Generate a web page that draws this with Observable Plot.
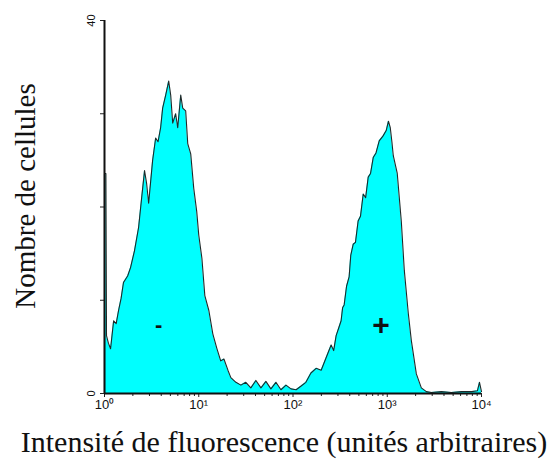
<!DOCTYPE html>
<html><head><meta charset="utf-8">
<script src="https://cdn.jsdelivr.net/npm/d3@7"></script>
<script src="https://cdn.jsdelivr.net/npm/@observablehq/plot@0.6"></script>
<style>body{margin:0;background:#fff}</style>
</head><body><div id="chart"></div>
<script>
// Fluorescence intensity (arbitrary units, log scale) and cell counts
const intensity = [1.0,1.0,1.035,1.05,1.1,1.16,1.25,1.33,1.41,1.5,1.59,1.76,1.89,2.08,2.3,2.48,2.66,2.8,2.94,3.24,3.49,3.7,3.94,4.14,4.46,4.8,5.04,5.29,5.69,5.98,6.44,6.76,7.27,7.64,8.22,8.85,9.52,10.0,10.8,11.6,12.8,14.1,15.5,17.1,18.5,20.4,21.9,24.8,28.0,31.6,35.7,40.4,45.7,51.6,58.3,65.9,74.5,84.3,95.2,108,122,137,155,176,199,224,254,270,287,305,324,336,349,370,394,410,435,460,491,520,556,590,628,665,710,760,822,900,975,1030,1077,1120,1159,1277,1409,1517,1672,1800,2036,2300,2600,2940,3750,4800,6130,7830,9060,9520,10000];
const counts = [0,23.6,23.6,6.2,5.4,4.8,7.8,7.5,8.9,10.2,11.9,12.6,13.5,15.3,17.8,21.0,23.9,22.5,20.4,25.0,27.4,27.0,28.5,30.6,32.0,33.5,32.0,29.0,30.0,28.5,32.0,30.6,30.3,26.8,25.7,22.0,19.5,17.0,14.5,10.5,8.9,6.4,4.9,3.5,3.7,2.5,1.7,1.2,0.9,1.2,0.6,1.4,0.6,1.3,0.5,1.2,0.4,0.9,0.5,0.4,0.8,1.2,2.2,2.7,2.5,3.8,5.2,4.6,6.2,7.0,7.8,9.2,9.5,11.5,12.5,14.8,16.0,16.2,18.5,19.0,21.4,21.0,23.2,23.6,25.3,25.8,27.1,27.6,28.2,29.2,28.5,27.0,25.5,23.6,18.5,13.2,8.6,5.7,2.1,0.6,0.2,0.1,0.2,0.1,0.2,0.2,0.3,1.2,0.2];

const xTicks = [1,10,100,1000,10000];
const xTickLabels = ["10⁰","10¹","10²","10³","10⁴"];
const xMinorTicks = [2,3,4,5,6,7,8,9,20,30,40,50,60,70,80,90,200,300,400,500,600,700,800,900,2000,3000,4000,5000,6000,7000,8000,9000];
const yTicks = [0,10,20,30,40];
const yTickLabels = ["0","","","","40"];
const markerLabels = ["-","+"];
const markerX = [3.75, 860];
const markerY = [7.3, 7.3];
const xTitle = "Intensité de fluorescence (unités arbitraires)";
const yTitle = "Nombre de cellules";

const data = intensity.map((v,i)=>({x:v, y:counts[i]}));
const markers = markerLabels.map((t,i)=>({t, x:markerX[i], y:markerY[i]}));

const plot = Plot.plot({
  width: 558, height: 466,
  marginLeft: 104, marginRight: 77, marginTop: 20, marginBottom: 73,
  style: {fontFamily: "Liberation Sans, Arial, sans-serif", background: "#fff"},
  x: {type: "log", domain: [1, 10000], label: null},
  y: {domain: [0, 40], label: null},
  marks: [
    Plot.areaY(data, {x:"x", y:"y", fill:"#00ffff", curve:"linear"}),
    Plot.lineY(data, {x:"x", y:"y", stroke:"#1e2a2a", strokeWidth:1.1, curve:"linear"}),
    Plot.axisX({ticks: xMinorTicks, tickSize: 3, tickFormat: () => "", stroke:"#222", label: null}),
    Plot.axisX({ticks: xTicks, tickSize: 4, tickPadding: 2, fontSize: 13, tickFormat: d => xTickLabels[xTicks.indexOf(d)], fill:"#111", stroke:"#222", label: null}),
    Plot.axisY({ticks: yTicks, tickSize: 4, tickPadding: 6, fontSize: 11, tickRotate: -90, tickFormat: d => yTickLabels[yTicks.indexOf(d)], fill:"#111", stroke:"#222", label: null}),
    Plot.ruleY([0], {stroke:"#111", strokeWidth:2}),
    Plot.ruleX([1], {stroke:"#111", strokeWidth:2}),
    Plot.text(markers.filter(d => d.t === "-"), {x:"x", y:"y", text:"t", fontSize:22, fontWeight:"bold", fill:"#111"}),
    Plot.text(markers.filter(d => d.t === "+"), {x:"x", y:"y", text:"t", fontSize:30, fontWeight:"bold", fill:"#111"})
  ]
});
document.getElementById("chart").appendChild(plot);
const svg = d3.select(plot);
svg.append("text").attr("x", 284).attr("y", 452).attr("text-anchor","middle")
  .attr("font-family","Liberation Serif, Times New Roman, serif").attr("font-size",30).attr("fill","#111").text(xTitle);
svg.append("text").attr("transform","translate(35,196) rotate(-90)").attr("text-anchor","middle")
  .attr("font-family","Liberation Serif, Times New Roman, serif").attr("font-size",29).attr("fill","#111").text(yTitle);
</script></body></html>
